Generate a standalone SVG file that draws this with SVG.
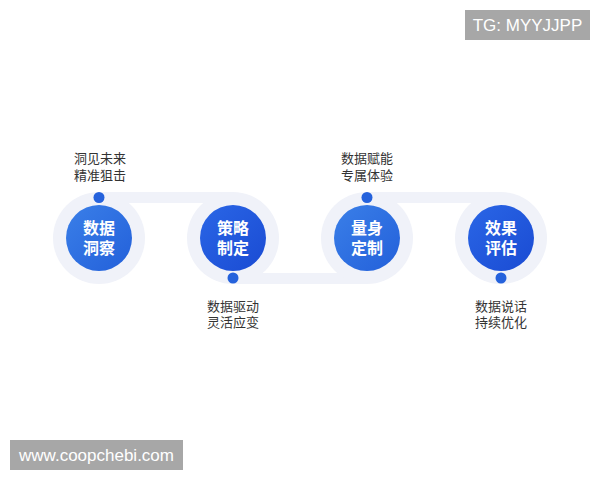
<svg xmlns="http://www.w3.org/2000/svg" width="600" height="480" viewBox="0 0 600 480">
  <defs>
    <linearGradient id="gLight" x1="0" y1="0" x2="1" y2="1">
      <stop offset="0" stop-color="#3a7fe8"/>
      <stop offset="1" stop-color="#2360da"/>
    </linearGradient>
    <linearGradient id="gDark" x1="0" y1="0" x2="1" y2="1">
      <stop offset="0" stop-color="#2a66e6"/>
      <stop offset="1" stop-color="#1a4bd3"/>
    </linearGradient>
    <style>
      .halo { fill: #f0f2f9; }
      .band { fill: #f0f2f9; }
      .dot { fill: #2562dc; }
      .title { font-family: "Noto Sans CJK SC", "Noto Sans", sans-serif; font-size: 16px; font-weight: 700; fill: #ffffff; text-anchor: middle; }
      .label { font-family: "Noto Sans CJK SC", "Noto Sans", sans-serif; font-size: 13px; fill: #333333; text-anchor: middle; }
      .wm { fill: #a7a7a7; }
      .wmt { font-family: "Liberation Sans", Arial, sans-serif; font-size: 17px; fill: #ffffff; text-anchor: middle; }
    </style>
  </defs>
  <rect width="600" height="480" fill="#ffffff"/>

  <g id="connectors">
    <rect class="band" x="99" y="192" width="134" height="11"/>
    <rect class="band" x="233" y="273" width="134" height="11"/>
    <rect class="band" x="367" y="192" width="134" height="11"/>
  </g>

  <g id="node1">
    <circle class="halo" cx="99" cy="238" r="46"/>
    <circle cx="99" cy="238" r="33" fill="url(#gLight)"/>
    <circle class="dot" cx="99" cy="197.5" r="5.5"/>
    <text class="title" x="99" y="234">数据<tspan x="99" y="254">洞察</tspan></text>
    <text class="label" x="100" y="163">洞见未来<tspan x="100" y="180">精准狙击</tspan></text>
  </g>

  <g id="node2">
    <circle class="halo" cx="233" cy="238" r="46"/>
    <circle cx="233" cy="238" r="33" fill="url(#gDark)"/>
    <circle class="dot" cx="233" cy="278" r="5.5"/>
    <text class="title" x="233" y="234">策略<tspan x="233" y="254">制定</tspan></text>
    <text class="label" x="233" y="311">数据驱动<tspan x="233" y="327">灵活应变</tspan></text>
  </g>

  <g id="node3">
    <circle class="halo" cx="367" cy="238" r="46"/>
    <circle cx="367" cy="238" r="33" fill="url(#gLight)"/>
    <circle class="dot" cx="367" cy="197.5" r="5.5"/>
    <text class="title" x="367" y="234">量身<tspan x="367" y="254">定制</tspan></text>
    <text class="label" x="367" y="163">数据赋能<tspan x="367" y="180">专属体验</tspan></text>
  </g>

  <g id="node4">
    <circle class="halo" cx="501" cy="238" r="46"/>
    <circle cx="501" cy="238" r="33" fill="url(#gDark)"/>
    <circle class="dot" cx="501" cy="278" r="5.5"/>
    <text class="title" x="501" y="234">效果<tspan x="501" y="254">评估</tspan></text>
    <text class="label" x="501" y="311">数据说话<tspan x="501" y="327">持续优化</tspan></text>
  </g>

  <g id="watermark-tg">
    <rect class="wm" x="465" y="10" width="125" height="30"/>
    <text class="wmt" x="527.5" y="31">TG: MYYJJPP</text>
  </g>
  <g id="watermark-www">
    <rect class="wm" x="10" y="440" width="173" height="30"/>
    <text class="wmt" x="96.5" y="461">www.coopchebi.com</text>
  </g>
</svg>
